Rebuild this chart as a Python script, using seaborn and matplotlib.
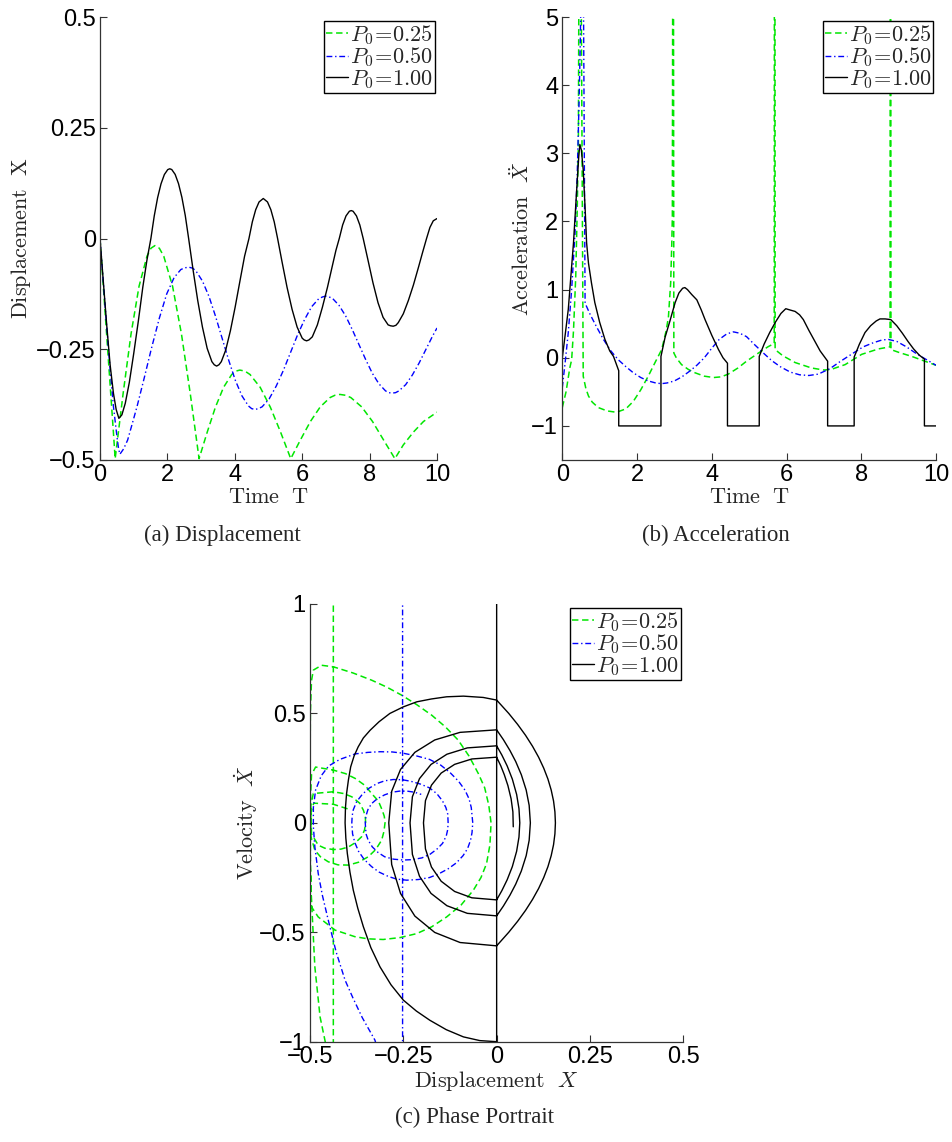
import matplotlib
matplotlib.use("Agg")
import matplotlib.pyplot as plt
import seaborn as sns

sns.set_style("ticks")
plt.rcParams["font.family"] = ["Liberation Sans", "DejaVu Sans"]
plt.rcParams["mathtext.fontset"] = "cm"
plt.rcParams["axes.unicode_minus"] = True

GREEN = "#00e600"
BLUE = "#0000ff"
BLACK = "#000000"
labels = [r"$P_0\!=\!0.25$", r"$P_0\!=\!0.50$", r"$P_0\!=\!1.00$"]

# ---------------- (a) displacement ----------------
disp_k_t = [0, 0.1, 0.2, 0.3, 0.4, 0.48, 0.56, 0.65, 0.75, 0.87, 1.0, 1.14, 1.27, 1.39, 1.51,
            1.61, 1.71, 1.81, 1.91, 2.01, 2.07, 2.13, 2.23, 2.33, 2.43, 2.53, 2.63,
            2.76, 2.9, 3.04, 3.18, 3.32, 3.39, 3.46, 3.53, 3.6, 3.73, 3.87, 4.01, 4.15, 4.29, 4.42,
            4.52, 4.62, 4.72, 4.845, 4.97, 5.07, 5.17, 5.27,
            5.4, 5.55, 5.7, 5.85, 6.0, 6.06, 6.13, 6.2, 6.3, 6.45, 6.6, 6.75, 6.9, 7.0, 7.1,
            7.2, 7.3, 7.4, 7.455, 7.51, 7.61, 7.71, 7.81,
            7.95, 8.1, 8.25, 8.4, 8.55, 8.62, 8.7, 8.78, 8.85, 9.0, 9.15, 9.3, 9.45, 9.57, 9.69,
            9.79, 9.89, 10.0]
disp_k_x = [0, -0.099, -0.196, -0.285, -0.35, -0.386, -0.406, -0.398, -0.372, -0.325, -0.26, -0.185, -0.11, -0.05, 0.0,
            0.0511, 0.0922, 0.1233, 0.1444, 0.1555, 0.1574, 0.1556, 0.1447, 0.1238, 0.0929, 0.052, 0.0,
            -0.07, -0.14, -0.2, -0.248, -0.278, -0.285, -0.288, -0.285, -0.278, -0.252, -0.208, -0.155, -0.097, -0.04, 0.0,
            0.0375, 0.065, 0.0825, 0.0903, 0.0825, 0.065, 0.0375, 0.0,
            -0.052, -0.11, -0.16, -0.2, -0.225, -0.229, -0.231, -0.229, -0.222, -0.195, -0.155, -0.11, -0.06, -0.027, 0.0,
            0.0305, 0.051, 0.0615, 0.063, 0.0615, 0.051, 0.0305, 0.0,
            -0.048, -0.1, -0.145, -0.178, -0.195, -0.197, -0.198, -0.196, -0.19, -0.17, -0.14, -0.105, -0.065, -0.032, 0.0,
            0.025, 0.04, 0.045]

disp_g_t = [0, 0.1, 0.2, 0.3, 0.4, 0.45, 0.686, 0.922, 1.158, 1.394, 1.512, 1.63, 1.761, 1.892, 2.154, 2.416, 2.678, 2.94,
            3.182, 3.424, 3.666, 3.908, 4.029, 4.15, 4.301, 4.452, 4.754, 5.056, 5.358, 5.66,
            5.952, 6.244, 6.536, 6.828, 6.974, 7.12, 7.281, 7.442, 7.764, 8.086, 8.408, 8.75, 9.0, 9.3, 9.6, 10.0]
disp_g_x = [0, -0.11, -0.22, -0.33, -0.44, -0.497, -0.35, -0.215, -0.108, -0.04, -0.022, -0.016, -0.022, -0.04, -0.108,
            -0.215, -0.35, -0.497,
            -0.437, -0.381, -0.336, -0.307, -0.2994, -0.297, -0.2994, -0.307, -0.336, -0.381, -0.437, -0.497,
            -0.454, -0.413, -0.38, -0.359, -0.3538, -0.352, -0.3538, -0.359, -0.38, -0.413, -0.454, -0.497, -0.466,
            -0.437, -0.413, -0.392]

disp_b_t = [0, 0.1, 0.2, 0.3, 0.4, 0.5, 0.55, 0.59, 0.7, 0.82, 0.95, 1.1, 1.32, 1.52, 1.76, 1.98, 2.2, 2.4, 2.52, 2.65,
            2.75, 2.845, 3.04, 3.235, 3.43, 3.625, 3.82, 4.015, 4.21, 4.405, 4.5, 4.6, 4.7, 4.81, 5.02, 5.23, 5.44, 5.65,
            5.86, 6.07, 6.28, 6.49, 6.6, 6.7, 6.8, 6.897, 7.094, 7.291, 7.488, 7.685, 7.882, 8.079, 8.276, 8.473, 8.57,
            8.67, 8.77, 8.87, 9.07, 9.27, 9.47, 9.67, 9.87, 10.0]
disp_b_x = [0, -0.1, -0.2, -0.295, -0.38, -0.445, -0.474, -0.487, -0.475, -0.455, -0.42, -0.379, -0.3125, -0.25, -0.18,
            -0.125, -0.088, -0.07, -0.066, -0.065, -0.067, -0.073, -0.096, -0.131, -0.176, -0.2255, -0.275, -0.32, -0.355,
            -0.378, -0.384, -0.386, -0.384, -0.38, -0.362, -0.333, -0.298, -0.258, -0.218, -0.183, -0.154, -0.136, -0.132,
            -0.13, -0.132, -0.135, -0.151, -0.175, -0.206, -0.2395, -0.273, -0.304, -0.328, -0.344, -0.348, -0.349,
            -0.348, -0.344, -0.33, -0.308, -0.281, -0.2505, -0.22, -0.202]

# ---------------- (b) acceleration ----------------
acc_k_t = [0, 0.08, 0.16, 0.23, 0.3, 0.38, 0.44, 0.47, 0.51, 0.56, 0.61, 0.65, 0.7, 0.78, 0.87, 1.0, 1.14, 1.27, 1.37, 1.45,
           1.51, 1.51, 2.64, 2.64, 2.75, 2.88, 3.02, 3.12, 3.22, 3.28, 3.35, 3.46, 3.6, 3.72, 3.82, 4.0, 4.18, 4.3, 4.42,
           4.42, 5.27, 5.27, 5.4, 5.55, 5.7, 5.85, 5.98, 6.1, 6.23, 6.35, 6.45, 6.6, 6.75, 6.9, 7.1, 7.1, 7.81, 7.81,
           7.95, 8.1, 8.25, 8.4, 8.5, 8.64, 8.79, 8.95, 9.1, 9.25, 9.4, 9.55, 9.69, 9.69, 10.0]
acc_k_y = [0, 0.35, 0.71, 1.2, 1.69, 2.42, 2.95, 3.13, 3.05, 2.76, 2.2, 1.69, 1.39, 1.1, 0.81, 0.52, 0.27, 0.1, 0.02, -0.1,
           -0.19, -1.0, -1.0, 0.02, 0.3, 0.54, 0.81, 0.95, 1.02, 1.03, 1.0, 0.93, 0.85, 0.7, 0.56, 0.33, 0.12, 0.0, -0.08,
           -1.0, -1.0, 0.02, 0.2, 0.37, 0.52, 0.65, 0.72, 0.7, 0.68, 0.63, 0.56, 0.4, 0.25, 0.1, -0.05, -1.0, -1.0, 0.01,
           0.2, 0.37, 0.47, 0.54, 0.57, 0.57, 0.56, 0.47, 0.36, 0.24, 0.13, 0.04, -0.02, -1.0, -1.0]

acc_g_t = [0, 0.1, 0.2, 0.25, 0.3, 0.36, 0.4, 0.43, 0.447, 0.5, 0.56, 0.63, 0.7, 0.8, 0.96, 1.2, 1.45, 1.7, 1.9, 2.1,
           2.3, 2.5, 2.66, 2.78, 2.84, 2.9, 2.93, 2.945, 2.955, 2.975, 2.985, 3.05, 3.19, 3.37, 3.55, 3.8, 4.05, 4.25,
           4.44, 4.7, 4.93, 5.25, 5.5, 5.67, 5.675, 5.69, 5.695, 5.9, 6.23, 6.67, 7.0, 7.2, 7.57, 8.01, 8.46, 8.77,
           8.775, 8.79, 8.795, 9.0, 9.35, 10.0]
acc_g_y = [-0.73, -0.5, -0.15, -0.03, 0.4, 1.2, 2.2, 3.15, 6, 6, -0.27, -0.45, -0.56, -0.65, -0.73, -0.78, -0.8, -0.75,
           -0.64, -0.47, -0.27, -0.05, 0.12, 0.4, 0.6, 1.1, 1.68, 2.07, 6, 6, 0.07, 0.0, -0.1, -0.17, -0.22, -0.27, -0.29,
           -0.28, -0.24, -0.15, -0.05, 0.07, 0.16, 0.21, 6, 6, 0.12, 0.03, -0.07, -0.15, -0.18, -0.17, -0.1, 0.05, 0.13,
           0.16, 6, 6, 0.12, 0.08, 0.02, -0.11]

acc_b_t = [0, 0.08, 0.16, 0.25, 0.34, 0.4, 0.45, 0.48, 0.52, 0.56, 0.61, 0.75, 0.92, 1.1, 1.3, 1.5, 1.7, 1.9, 2.1, 2.3,
           2.5, 2.65, 2.8, 3.0, 3.2, 3.4, 3.6, 3.8, 4.0, 4.2, 4.4, 4.58, 4.75, 4.93, 5.15, 5.38, 5.6, 5.83, 6.1, 6.35,
           6.6, 6.85, 7.16, 7.45, 7.79, 8.05, 8.32, 8.55, 8.72, 8.95, 9.21, 9.45, 9.66, 10.0]
acc_b_y = [-0.44, -0.05, 0.37, 1.0, 1.83, 2.7, 3.79, 4.6, 6, 6, 0.8, 0.63, 0.45, 0.27, 0.1, -0.03, -0.13, -0.22, -0.29,
           -0.34, -0.37, -0.38, -0.37, -0.34, -0.28, -0.2, -0.11, 0.0, 0.14, 0.27, 0.35, 0.38, 0.36, 0.31, 0.19, 0.07,
           -0.04, -0.13, -0.21, -0.25, -0.26, -0.24, -0.16, -0.05, 0.07, 0.16, 0.22, 0.26, 0.27, 0.24, 0.16, 0.07, 0.0,
           -0.11]

# ---------------- (c) phase portrait ----------------
ph_k_x = [0, 0,
          -0.045, -0.089, -0.135, -0.179, -0.215, -0.25, -0.283, -0.3125, -0.337, -0.357, -0.372, -0.384, -0.393, -0.4,
          -0.404, -0.406, -0.405, -0.402, -0.397, -0.391, -0.382, -0.371, -0.357, -0.339, -0.315, -0.286, -0.25, -0.214,
          -0.175, -0.134, -0.089, -0.036, 0,
          0.0324, 0.0561, 0.0774, 0.0961, 0.1124, 0.1261, 0.1374, 0.1461, 0.1524, 0.1561, 0.1574,
          0.1561, 0.1524, 0.1461, 0.1374, 0.1261, 0.1124, 0.0961, 0.0774, 0.0561, 0.0324, 0,
          -0.098, -0.1659, -0.2191, -0.2575, -0.2812, -0.289, -0.2812, -0.2575, -0.2191, -0.1659, -0.098, 0,
          0.0181, 0.0358, 0.0511, 0.0661, 0.0791, 0.0871, 0.0903, 0.0871, 0.0791, 0.0661, 0.0511, 0.0358, 0.0181, 0,
          -0.0786, -0.1332, -0.1759, -0.2067, -0.2257, -0.232, -0.2257, -0.2067, -0.1759, -0.1332, -0.0786, 0,
          0.0139, 0.0282, 0.042, 0.0535, 0.0598, 0.062, 0.0598, 0.0535, 0.042, 0.0282, 0.0139, 0,
          -0.0664, -0.1125, -0.1486, -0.1746, -0.1907, -0.196, -0.1907, -0.1746, -0.1486, -0.1125, -0.0664, 0,
          0.0112, 0.0205, 0.0302, 0.0387, 0.0435, 0.0445]
ph_k_v = [1.5, -1.0,
          -0.995, -0.978, -0.945, -0.902, -0.86, -0.81, -0.74, -0.658, -0.57, -0.475, -0.39, -0.308, -0.225, -0.14,
          -0.07, 0, 0.07, 0.134, 0.197, 0.256, 0.305, 0.347, 0.388, 0.423, 0.462, 0.5, 0.53, 0.553,
          0.566, 0.576, 0.579, 0.573, 0.561,
          0.5, 0.45, 0.4, 0.35, 0.3, 0.25, 0.2, 0.15, 0.1, 0.05, 0,
          -0.05, -0.1, -0.15, -0.2, -0.25, -0.3, -0.35, -0.4, -0.45, -0.5, -0.562,
          -0.5468, -0.5007, -0.426, -0.3226, -0.1905, 0, 0.1441, 0.244, 0.3222, 0.3787, 0.4135, 0.425,
          0.38, 0.33, 0.28, 0.22, 0.15, 0.08, 0, -0.08, -0.15, -0.22, -0.28, -0.33, -0.38, -0.425,
          -0.4135, -0.3787, -0.3222, -0.244, -0.1441, 0, 0.1193, 0.202, 0.2668, 0.3136, 0.3425, 0.352,
          0.31, 0.26, 0.2, 0.13, 0.065, 0, -0.065, -0.13, -0.2, -0.26, -0.31, -0.352,
          -0.3425, -0.3136, -0.2668, -0.202, -0.1193, 0, 0.1017, 0.1722, 0.2274, 0.2673, 0.2919, 0.3,
          0.26, 0.22, 0.17, 0.11, 0.05, -0.018]

ph_g_x = [-0.4375, -0.4375, -0.45, -0.458, -0.473, -0.487, -0.496, -0.5, -0.5, -0.499, -0.496, -0.491, -0.469, -0.4375,
          -0.385, -0.335, -0.294, -0.254, -0.214, -0.174, -0.137, -0.103, -0.074, -0.049, -0.032, -0.021, -0.015,
          -0.018, -0.027, -0.042, -0.0625, -0.095, -0.134, -0.174, -0.214, -0.258, -0.304, -0.345, -0.38,
          -0.433, -0.478, -0.496, -0.499, -0.499, -0.496, -0.485, -0.4375, -0.405, -0.379, -0.352, -0.335, -0.317,
          -0.307, -0.301, -0.299, -0.302, -0.308, -0.324, -0.344, -0.37, -0.397, -0.425, -0.451, -0.472, -0.487,
          -0.498, -0.498, -0.491, -0.4375, -0.41, -0.388, -0.367, -0.357, -0.352, -0.351, -0.354, -0.362, -0.378,
          -0.397, -0.417, -0.4375, -0.46, -0.478, -0.496, -0.497, -0.49, -0.4375, -0.392]
ph_g_v = [1.5, -1.5, -1.2, -1.01, -0.887, -0.658, -0.354, -0.14, 0.2, 0.5, 0.65, 0.698, 0.72, 0.713,
          0.685, 0.652, 0.62, 0.583, 0.54, 0.492, 0.438, 0.378, 0.305, 0.225, 0.16, 0.08, 0,
          -0.1, -0.186, -0.25, -0.308, -0.375, -0.43, -0.475, -0.506, -0.524, -0.533, -0.53, -0.52,
          -0.49, -0.43, -0.384, -0.2, 0.1, 0.22, 0.255, 0.241, 0.225, 0.203, 0.17, 0.134, 0.1,
          0.06, 0.03, 0, -0.04, -0.079, -0.122, -0.155, -0.18, -0.193, -0.192, -0.178, -0.155, -0.125,
          -0.06, 0.08, 0.134, 0.142, 0.134, 0.119, 0.09, 0.058, 0.03, 0, -0.033, -0.064, -0.09,
          -0.11, -0.12, -0.122, -0.116, -0.102, -0.05, 0.05, 0.09, 0.085, 0.06]

ph_b_x = [-0.252, -0.252, -0.3, -0.326, -0.36, -0.385, -0.406, -0.43, -0.451, -0.467, -0.478, -0.487, -0.491, -0.491,
          -0.485, -0.47, -0.45, -0.42, -0.379, -0.345, -0.3125, -0.28, -0.25, -0.215, -0.18, -0.15, -0.125, -0.102,
          -0.085, -0.074, -0.068, -0.064, -0.066, -0.07, -0.078, -0.09, -0.108, -0.13, -0.155, -0.18, -0.21, -0.241,
          -0.268, -0.29, -0.315, -0.335, -0.355, -0.37, -0.38, -0.386, -0.388, -0.387, -0.384, -0.375, -0.36, -0.342,
          -0.32, -0.3, -0.277, -0.253, -0.23, -0.204, -0.18, -0.16, -0.145, -0.136, -0.131, -0.13, -0.131, -0.135,
          -0.145, -0.16, -0.178, -0.2, -0.225, -0.25, -0.276, -0.3, -0.318, -0.333, -0.344, -0.35, -0.352, -0.35,
          -0.345, -0.335, -0.32, -0.3, -0.28, -0.26, -0.24, -0.22, -0.202]
ph_b_v = [1.5, -1.5, -1.15, -0.993, -0.89, -0.8, -0.719, -0.59, -0.445, -0.33, -0.231, -0.11, -0.017, 0.07,
          0.15, 0.215, 0.26, 0.29, 0.315, 0.322, 0.325, 0.324, 0.318, 0.306, 0.29, 0.264, 0.23, 0.19,
          0.15, 0.11, 0.07, 0, -0.045, -0.08, -0.118, -0.15, -0.183, -0.21, -0.233, -0.25, -0.259, -0.262,
          -0.257, -0.245, -0.225, -0.2, -0.167, -0.13, -0.09, -0.05, 0, 0.032, 0.06, 0.097, 0.13, 0.158,
          0.18, 0.192, 0.198, 0.197, 0.19, 0.177, 0.16, 0.133, 0.1, 0.07, 0.04, 0, -0.03, -0.06,
          -0.094, -0.12, -0.143, -0.16, -0.168, -0.17, -0.166, -0.155, -0.135, -0.11, -0.08, -0.05, 0, 0.032,
          0.06, 0.088, 0.11, 0.128, 0.14, 0.145, 0.145, 0.14, 0.13]

STY_G = dict(color=GREEN, linestyle=(0, (4.2, 2.4)), linewidth=1.1)
STY_B = dict(color=BLUE, linestyle=(0, (4.2, 2.0, 1.0, 2.0)), linewidth=1.0)
STY_K = dict(color=BLACK, linestyle="-", linewidth=1.0)

fig = plt.figure(figsize=(9.53, 11.42), dpi=100)
W, H = 953.0, 1142.0


def mk_ax(l, t, r, b):
    return fig.add_axes([l / W, 1 - b / H, (r - l) / W, (b - t) / H])


axA = mk_ax(100, 17, 437, 460)
axB = mk_ax(562.3, 17, 936, 460)
axC = mk_ax(310, 604, 683.3, 1041.7)


def draw(ax, xg, yg, xb, yb, xk, yk):
    sns.lineplot(x=xg, y=yg, ax=ax, sort=False, estimator=None, **STY_G)
    sns.lineplot(x=xb, y=yb, ax=ax, sort=False, estimator=None, **STY_B)
    sns.lineplot(x=xk, y=yk, ax=ax, sort=False, estimator=None, **STY_K)
    lines = ax.get_lines()[-3:]
    leg = ax.legend(lines, labels, loc="upper right", bbox_to_anchor=(0.993, 0.99), fontsize=16,
                    frameon=True, fancybox=False, framealpha=1, edgecolor="black",
                    handlelength=0.98, handletextpad=0.1, borderpad=0.08, labelspacing=-0.06,
                    borderaxespad=0.0)
    leg.get_frame().set_linewidth(1.0)


def style(ax):
    sns.despine(ax=ax)
    for s in ("left", "bottom"):
        ax.spines[s].set_color("#333333")
        ax.spines[s].set_linewidth(0.9)
    ax.tick_params(direction="in", length=5, width=0.8, labelsize=17, pad=3, colors="#333333",
                   labelcolor="black")
    ax.set_xlabel("")
    ax.set_ylabel("")


draw(axA, disp_g_t, disp_g_x, disp_b_t, disp_b_x, disp_k_t, disp_k_x)
axA.set_xlim(0, 10)
axA.set_ylim(-0.5, 0.5)
axA.set_xticks([0, 2, 4, 6, 8, 10])
axA.set_yticks([-0.5, -0.25, 0, 0.25, 0.5])
axA.set_yticklabels(["\u22120.5", "\u22120.25", "0", "0.25", "0.5"])
style(axA)
axA.text(0.5, -0.085, r"$\mathrm{Time\ \ T}$", transform=axA.transAxes, ha="center", va="center", fontsize=16)
axA.text(-0.234, 0.5, r"$\mathrm{Displacement\ \ X}$", transform=axA.transAxes, ha="center", va="center",
         rotation=90, fontsize=16)

draw(axB, acc_g_t, acc_g_y, acc_b_t, acc_b_y, acc_k_t, acc_k_y)
axB.set_xlim(0, 10)
axB.set_ylim(-1.5, 5)
axB.set_xticks([0, 2, 4, 6, 8, 10])
axB.set_yticks([-1, 0, 1, 2, 3, 4, 5])
axB.set_yticklabels(["\u22121", "0", "1", "2", "3", "4", "5"])
style(axB)
axB.text(0.5, -0.085, r"$\mathrm{Time\ \ T}$", transform=axB.transAxes, ha="center", va="center", fontsize=16)
axB.text(-0.107, 0.5, r"$\mathrm{Acceleration}\ \ \ddot{X}$", transform=axB.transAxes, ha="center",
         va="center", rotation=90, fontsize=16)

draw(axC, ph_g_x, ph_g_v, ph_b_x, ph_b_v, ph_k_x, ph_k_v)
axC.set_xlim(-0.5, 0.5)
axC.set_ylim(-1, 1)
axC.set_xticks([-0.5, -0.25, 0, 0.25, 0.5])
axC.set_xticklabels(["\u22120.5", "\u22120.25", "0", "0.25", "0.5"])
axC.set_yticks([-1, -0.5, 0, 0.5, 1])
axC.set_yticklabels(["\u22121", "\u22120.5", "0", "0.5", "1"])
style(axC)
axC.text(0.5, -0.09, r"$\mathrm{Displacement}\ \ X$", transform=axC.transAxes, ha="center", va="center",
         fontsize=16)
axC.text(-0.172, 0.5, r"$\mathrm{Velocity}\ \ \dot{X}$", transform=axC.transAxes, ha="center", va="center",
         rotation=90, fontsize=16)

cap = dict(family="Liberation Serif", fontsize=16.5, ha="center", va="center")
fig.text(222 / W, 1 - 535 / H, "(a) Displacement", **cap)
fig.text(716 / W, 1 - 535 / H, "(b) Acceleration", **cap)
fig.text(475 / W, 1 - 1117 / H, "(c) Phase Portrait", **cap)

fig.savefig("out.png", dpi=100)
